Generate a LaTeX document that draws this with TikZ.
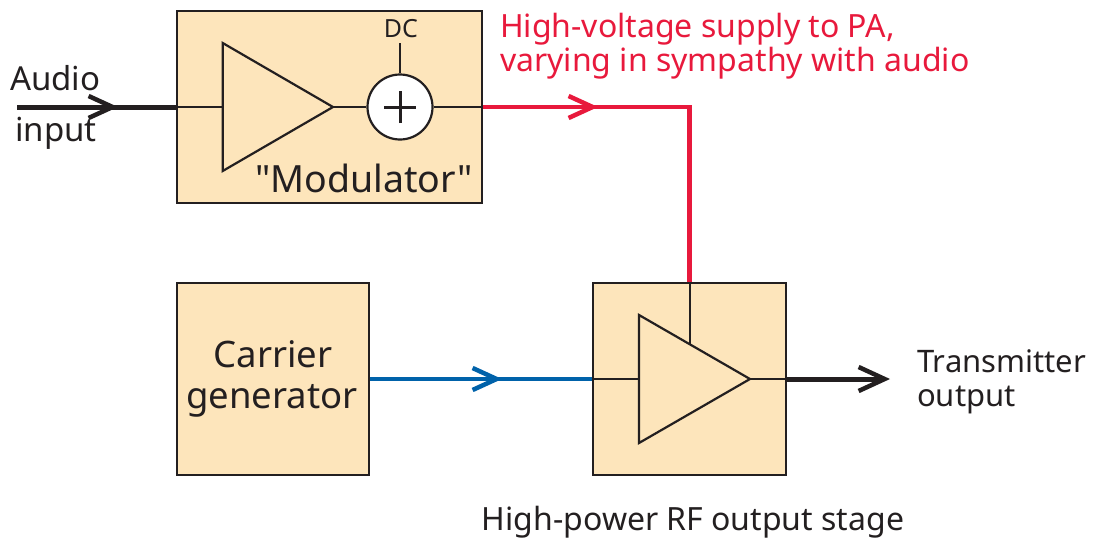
\documentclass[tikz,border=0pt]{standalone}
\usepackage{fontspec}
\setmainfont{Noto Sans}
\usetikzlibrary{arrows.meta,decorations.markings}
\definecolor{boxfill}{HTML}{FDE5BB}
\definecolor{ink}{HTML}{231F20}
\definecolor{supred}{HTML}{E8193C}
\definecolor{carblue}{HTML}{0062AA}
\begin{document}
\begin{tikzpicture}[x=1pt,y=-1pt,
  box/.style={draw=ink, line width=2.5pt, fill=boxfill, inner sep=0pt, outer sep=0pt},
  wire/.style={draw=ink, line width=2pt},
  amp/.style={draw=ink, line width=2.2pt, line join=miter},
  bigwire/.style={line width=4.5pt},
  lbl/.style={text=ink, inner sep=0pt},
  midarrow/.style={postaction={decorate}, decoration={markings,
     mark=at position #1 with {\arrow{Straight Barb[length=24pt,width=22pt,line width=4.5pt]}}}}]
\useasboundingbox (0,0) rectangle (1095,541);

% coloured / thick connectors first
\coordinate (modE) at (482,107);
\coordinate (modW) at (177,107);
\coordinate (ain) at (17,107);
\coordinate (paN) at (689.5,283);
\coordinate (paW) at (593,379);
\coordinate (paE) at (786,379);
\coordinate (carE) at (369,379);

\draw[ink, line width=5pt, midarrow=101pt] (ain) -- (modW);
\draw[supred, bigwire, midarrow=116pt] (modE) -| (paN);
\draw[carblue, bigwire, midarrow=133pt] (carE) -- (paW);

% boxes
\node[box, minimum width=305pt, minimum height=192pt] (mod) at (329.5,107) {};
\node[box, minimum width=192pt, minimum height=192pt] (car) at (273,379) {};
\node[box, minimum width=193pt, minimum height=192pt] (pa) at (689.5,379) {};

% modulator internals
\coordinate (amp1in) at (222.7,107);
\coordinate (amp1out) at (333,107);
\draw[amp] (222.7,43) -- (amp1out) -- (222.7,171) -- cycle;
\draw[wire] (mod.west) -- (amp1in);
\node[circle, draw=ink, line width=2.2pt, fill=white, minimum size=65pt, inner sep=0pt] (sum) at (400,107) {};
\draw[ink, line width=3pt] ([xshift=-16pt]sum.center) -- ([xshift=16pt]sum.center);
\draw[ink, line width=3pt] ([yshift=-16pt]sum.center) -- ([yshift=16pt]sum.center);
\draw[wire] (amp1out) -- (sum.west);
\draw[wire] (sum.east) -- (mod.east);
\coordinate (dcend) at (400,43);
\draw[wire] (sum.north) -- (dcend);
\node[lbl, font=\fontsize{25}{30}\selectfont, anchor=base] (dc) at (401,37) {DC};
\node[lbl, font=\fontsize{37.5}{44}\selectfont, anchor=base] (modlbl) at (364,192) {\addfontfeatures{Ligatures=TeXOff}"Modulator"};

% PA internals
\coordinate (amp2in) at (639,379);
\coordinate (amp2out) at (750,379);
\coordinate (amp2sup) at (689.5,344.1);
\draw[amp] (639,315) -- (amp2out) -- (639,443) -- cycle;
\draw[wire] (pa.west) -- (amp2in);
\draw[wire] (pa.north) -- (amp2sup);
\draw[wire] (amp2out) -- (pa.east);
\coordinate (txend) at (890,379);
\draw[ink, line width=5pt, -{Straight Barb[length=26pt,width=24pt,line width=4.5pt]}] (pa.east) -- (txend);

% labels
\node[lbl, font=\fontsize{33}{40}\selectfont, anchor=base west] (audio) at (10,90) {Audio};
\node[lbl, font=\fontsize{33}{40}\selectfont, anchor=base west] (input) at (15,141) {input};
\node[lbl, text=supred, font=\fontsize{32}{38}\selectfont, anchor=base west] (hv1) at (500,37) {High-voltage supply to PA,};
\node[lbl, text=supred, font=\fontsize{32}{38}\selectfont, anchor=base west] (hv2) at (500,71) {varying in sympathy with audio};
\node[lbl, font=\fontsize{36.5}{44}\selectfont, anchor=base] (car1) at (273,367) {Carrier};
\node[lbl, font=\fontsize{36.5}{44}\selectfont, anchor=base] (car2) at (272,408) {generator};
\node[lbl, font=\fontsize{31}{37}\selectfont, anchor=base west] (tx1) at (917,372) {Transmitter};
\node[lbl, font=\fontsize{31}{37}\selectfont, anchor=base west] (tx2) at (917,406) {output};
\node[lbl, font=\fontsize{32}{38}\selectfont, anchor=base] (hp) at (693,530) {High-power RF output stage};
\end{tikzpicture}
\end{document}
